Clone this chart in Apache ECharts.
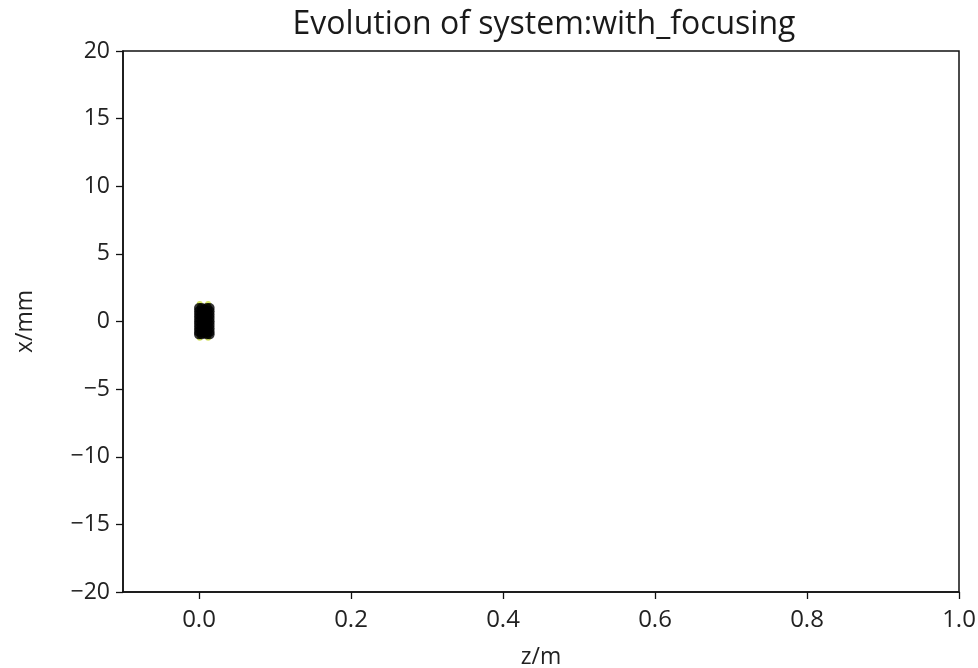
<!DOCTYPE html>
<html>
<head>
<meta charset="utf-8">
<script src="https://cdn.jsdelivr.net/npm/echarts@6/dist/echarts.min.js"></script>
<style>
  html, body { margin: 0; padding: 0; background: #fff; }
  #chart { width: 978px; height: 668px; }
</style>
</head>
<body>
<div id="chart"></div>
<script>
// Particle positions at the start of the beamline (z in m, x in mm)
const particleZ = [0.0, 0.0, 0.0, 0.0, 0.0, 0.0, 0.0, 0.0, 0.0,
                   0.0035, 0.0035, 0.0035, 0.0035, 0.0035, 0.0035, 0.0035, 0.0035,
                   0.007, 0.007, 0.007, 0.007, 0.007, 0.007, 0.007,
                   0.0105, 0.0105, 0.0105, 0.0105, 0.0105, 0.0105, 0.0105, 0.0105,
                   0.014, 0.014, 0.014, 0.014, 0.014, 0.014, 0.014, 0.014, 0.014];
const particleX = [1.0, 0.75, 0.5, 0.25, 0.0, -0.25, -0.5, -0.75, -0.95,
                   1.0, 0.7, 0.4, 0.1, -0.2, -0.5, -0.8, -0.95,
                   0.9, 0.6, 0.3, 0.0, -0.3, -0.6, -0.85,
                   1.0, 0.7, 0.4, 0.1, -0.2, -0.5, -0.8, -0.95,
                   1.0, 0.75, 0.5, 0.25, 0.0, -0.25, -0.5, -0.75, -0.95];
// Outermost rays shown in a second colour
const edgeZ = [0.001, 0.012, 0.001, 0.012];
const edgeX = [1.3, 1.3, -1.2, -1.2];

const xTicks = [0.0, 0.2, 0.4, 0.6, 0.8, 1.0];
const yTicks = [-20, -15, -10, -5, 0, 5, 10, 15, 20];

const fontFamily = 'Open Sans';
const particles = particleZ.map((z, i) => [z, particleX[i]]);
const edges = edgeZ.map((z, i) => [z, edgeX[i]]);

const chart = echarts.init(document.getElementById('chart'), null, { renderer: 'canvas' });
chart.setOption({
  animation: false,
  backgroundColor: '#ffffff',
  title: {
    text: 'Evolution of system:with_focusing',
    left: 539, top: 4, textAlign: 'center',
    textStyle: { fontFamily, fontSize: 32, fontWeight: 'normal', color: '#1a1a1a' }
  },
  grid: {
    left: 123, right: 19, top: 51, bottom: 76,
    outerBoundsMode: 'none', containLabel: false,
    show: true, borderColor: '#111', borderWidth: 1.5
  },
  xAxis: {
    type: 'value', min: -0.1, max: 1.0, interval: 0.1,
    name: 'z/m', nameLocation: 'middle', nameGap: 54,
    nameTextStyle: { fontFamily, fontSize: 23, color: '#222' },
    axisLine: { show: true, onZero: false, lineStyle: { color: '#111', width: 1.5 } },
    axisTick: { show: true, length: 7, inside: false, lineStyle: { color: '#111', width: 1.3 },
      customValues: xTicks },
    axisLabel: { fontFamily, fontSize: 24, color: '#222', margin: 16,
      customValues: xTicks,
      formatter: v => v.toFixed(1) },
    splitLine: { show: false }
  },
  yAxis: {
    type: 'value', min: -20, max: 20, interval: 5,
    name: 'x/mm', nameLocation: 'middle', nameGap: 86, nameRotate: 90,
    nameTextStyle: { fontFamily, fontSize: 23, color: '#222' },
    axisLine: { show: true, onZero: false, lineStyle: { color: '#111', width: 1.5 } },
    axisTick: { show: true, length: 7, inside: false, lineStyle: { color: '#111', width: 1.3 } },
    axisLabel: { fontFamily, fontSize: 23, color: '#222', margin: 13,
      customValues: yTicks,
      formatter: v => (v < 0 ? '\u2212' + Math.abs(v) : String(v)) },
    splitLine: { show: false }
  },
  series: [
    {
      type: 'scatter', data: edges, symbol: 'circle', symbolSize: 6,
      itemStyle: { color: '#c9dc3c' }, z: 1
    },
    {
      type: 'scatter', data: particles, symbol: 'circle', symbolSize: 10,
      itemStyle: { color: '#000000' }, z: 2
    }
  ]
});
</script>
</body>
</html>
